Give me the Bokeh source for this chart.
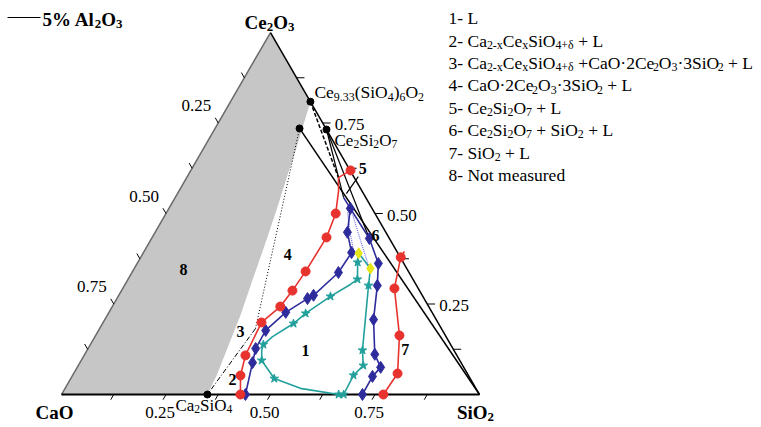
import re
import numpy as np
from bokeh.plotting import figure
from bokeh.models import Range1d, ColumnDataSource
from bokeh.core.properties import value
from bokeh.embed import file_html
from bokeh.resources import INLINE

# ---------------- data: mass fractions (SiO2, Ce2O3); CaO = 1 - SiO2 - Ce2O3 ----------------
ca2sio4 = (0.349, 0.0)
cce = (0.202, 0.735)        # CaO·2Ce2O3·3SiO2
ce2si2o7 = (0.268, 0.732)
ce933 = (0.191, 0.809)      # Ce9.33(SiO4)6O2
junction = (0.373, 0.182)

gray_si = [0.0, 0.0, 0.191, 0.208, 0.222, 0.238, 0.260, 0.280, 0.299, 0.319, 0.334, 0.345, 0.349]
gray_ce = [0.0, 1.0, 0.809, 0.738, 0.680, 0.605, 0.508, 0.412, 0.315, 0.218, 0.122, 0.053, 0.0]

red_l_si = [0.428, 0.402, 0.386, 0.379, 0.402, 0.409, 0.414, 0.417, 0.406, 0.381, 0.363, 0.382]
red_l_ce = [0.0, 0.0525, 0.108, 0.199, 0.243, 0.287, 0.340, 0.434, 0.500, 0.564, 0.599, 0.619]
red_l_mk = [1, 1, 1, 1, 1, 1, 1, 1, 1, 0, 0, 1]

red_r_si = [0.770, 0.775, 0.727, 0.650, 0.622, 0.623]
red_r_ce = [0.0, 0.058, 0.163, 0.293, 0.379, 0.395]
red_r_mk = [1, 1, 1, 1, 1, 0]

blue_l_si = [0.403, 0.434, 0.460, 0.498, 0.494, 0.466, 0.456, 0.423, 0.400, 0.401, 0.413, 0.440]
blue_l_ce = [0.544, 0.514, 0.448, 0.392, 0.337, 0.274, 0.265, 0.227, 0.177, 0.127, 0.088, 0.0]
blue_l_mk = [0, 1, 1, 1, 1, 1, 1, 1, 1, 1, 1, 1]

blue_r_si = [0.434, 0.521, 0.577, 0.605, 0.643, 0.694, 0.726, 0.719, 0.720]
blue_r_ce = [0.514, 0.431, 0.362, 0.301, 0.207, 0.111, 0.075, 0.050, 0.0]
blue_r_mk = [0, 1, 1, 1, 1, 1, 1, 1, 1]

teal_si = [0.663, 0.563, 0.487, 0.432, 0.418, 0.414, 0.425, 0.457, 0.472, 0.508, 0.539, 0.549,
           0.526, 0.516, 0.565, 0.584, 0.659, 0.682, 0.672, 0.675]
teal_ce = [0.0, 0.017, 0.044, 0.094, 0.122, 0.138, 0.160, 0.196, 0.224, 0.271, 0.304, 0.318,
           0.365, 0.390, 0.348, 0.301, 0.122, 0.080, 0.053, 0.0]
teal_mk = [1, 0, 1, 1, 0, 1, 0, 1, 1, 1, 0, 1, 1, 0, 0, 1, 1, 1, 1, 1]

yellow_si = [0.516, 0.565]
yellow_ce = [0.390, 0.348]

dot1_si = [0.433, 0.472, 0.500]
dot1_ce = [0.503, 0.439, 0.398]
dot2_si = [0.448, 0.503, 0.558]
dot2_ce = [0.497, 0.425, 0.354]

tie_b_end = (0.403, 0.544)
tie_c_end = (0.521, 0.431)
tie_d_end = (0.363, 0.599)
pointer5 = [(0.409, 0.602), (0.404, 0.555)]

tick_vals = [0.125, 0.25, 0.375, 0.5, 0.625, 0.75, 0.875]
tick_labels = {0.25: "0.25", 0.5: "0.50", 0.75: "0.75"}

region_labels = ["1", "2", "3", "4", "5", "6", "7", "8"]
region_si = [0.522, 0.387, 0.340, 0.346, 0.407, 0.530, 0.759, 0.118]
region_ce = [0.124, 0.044, 0.177, 0.390, 0.627, 0.442, 0.127, 0.348]

legend_items = [
    "1- L",
    "2- Ca_{2-x}Ce_{x}SiO_{4+δ} + L",
    "3- Ca_{2-x}Ce_{x}SiO_{4+δ} +CaO·2Ce_{2}O_{3}·3SiO_{2} + L",
    "4- CaO·2Ce_{2}O_{3}·3SiO_{2} + L",
    "5- Ce_{2}Si_{2}O_{7} + L",
    "6- Ce_{2}Si_{2}O_{7} + SiO_{2} + L",
    "7- SiO_{2} + L",
    "8- Not measured",
]

# ---------------- geometry ----------------
S3 = np.sqrt(3) / 2
PXU = 418.0            # pixels per unit side
OX, OY = 61.0, 394.0   # page pixel of the CaO vertex
W, H = 761, 427


def cart(si, ce):
    si = np.asarray(si, float)
    ce = np.asarray(ce, float)
    return si + ce / 2, ce * S3


def page(px, py):
    return (px - OX) / PXU, (OY - py) / PXU


p = figure(width=W, height=H, output_backend="svg", toolbar_location=None,
           x_range=Range1d((0 - OX) / PXU, (W - OX) / PXU),
           y_range=Range1d((OY - H) / PXU, OY / PXU),
           min_border=0, min_border_left=0, min_border_right=0,
           min_border_top=0, min_border_bottom=0)
p.axis.visible = False
p.grid.visible = False
p.outline_line_color = None
p.background_fill_color = "white"

# gray "not measured" region
gx, gy = cart(gray_si, gray_ce)
p.patch(gx, gy, fill_color="#c6c6c6", line_color=None)

# triangle edges
vx, vy = cart([0, 1, 0], [0, 0, 1])
p.line([vx[0], vx[2]], [vy[0], vy[2]], line_color="#6a6a6a", line_width=1.5)
p.line([vx[0], vx[1]], [vy[0], vy[1]], line_color="black", line_width=2.2)
p.line([vx[1], vx[2]], [vy[1], vy[2]], line_color="black", line_width=1.5)

# ticks
L = 6 / PXU
tx, ty = [], []
for t in tick_vals:
    bx, by = cart(t, 0)
    tx.append([bx, bx - 0.5 * L]); ty.append([by, by - S3 * L])
    rx, ry = cart(1 - t, t)
    tx.append([rx, rx + 1.3 * L]); ty.append([ry, ry])
    lx, ly = cart(0, 1 - t)
    tx.append([lx, lx - 0.5 * L]); ty.append([ly, ly + S3 * L])
p.multi_line(tx, ty, line_color="black", line_width=1)


def seg(a, b, **kw):
    x, y = cart([a[0], b[0]], [a[1], b[1]])
    p.line(x, y, **kw)


# tie lines
seg(cce, (1.0, 0.0), line_color="black", line_width=1.5)
seg(ce2si2o7, tie_b_end, line_color="black", line_width=1.2)
seg(ce2si2o7, tie_c_end, line_color="black", line_width=1.2)
seg(ce933, tie_d_end, line_color="black", line_width=1.5, line_dash="4 2")
seg(cce, junction, line_color="black", line_width=1, line_dash="1 2")
seg(junction, ca2sio4, line_color="black", line_width=1, line_dash="5 2 1 2")
seg(pointer5[0], pointer5[1], line_color="black", line_width=1.2)

# dotted light-blue guides
for dsi, dce in [(dot1_si, dot1_ce), (dot2_si, dot2_ce)]:
    x, y = cart(dsi, dce)
    p.line(x, y, line_color="#6f6fe6", line_width=1.2, line_dash="1 1")

RED, BLUE, TEAL = "#e8322e", "#2e2c9c", "#22a09c"


def curve(si, ce, mk, color, marker, size):
    x, y = cart(si, ce)
    p.line(x, y, line_color=color, line_width=1.6)
    m = np.array(mk, bool)
    p.scatter(x[m], y[m], marker=marker, size=size, fill_color=color, line_color=color)


curve(teal_si, teal_ce, teal_mk, TEAL, "star", 9)
curve(blue_l_si, blue_l_ce, blue_l_mk, BLUE, "diamond", 12)
curve(blue_r_si, blue_r_ce, blue_r_mk, BLUE, "diamond", 12)
curve(red_l_si, red_l_ce, red_l_mk, RED, "circle", 9)
curve(red_r_si, red_r_ce, red_r_mk, RED, "circle", 9)

yx, yy = cart(yellow_si, yellow_ce)
p.scatter(yx, yy, marker="diamond", size=11, fill_color="#e6e619", line_color="#e6e619")

# compound points
cx, cy = cart([ca2sio4[0], cce[0], ce2si2o7[0], ce933[0]], [ca2sio4[1], cce[1], ce2si2o7[1], ce933[1]])
p.scatter(cx, cy, size=7, fill_color="black", line_color="black")

# ---------------- rich text (Times metrics, Liberation Serif) ----------------
TR = {' ': 250, '%': 833, '(': 333, ')': 333, '+': 564, '-': 333, '.': 250, 'A': 722, 'C': 667,
      'L': 611, 'N': 722, 'O': 722, 'S': 556, 'a': 444, 'd': 500, 'e': 444, 'i': 278, 'l': 278,
      'm': 778, 'o': 500, 'r': 333, 's': 389, 't': 278, 'u': 500, 'x': 500, '·': 250, 'δ': 500}
TB = {' ': 250, '%': 1000, 'A': 722, 'C': 722, 'O': 778, 'S': 556, 'a': 500, 'e': 444, 'i': 278, 'l': 278}
SUB = 0.68
LIFT = 4.0

stores = {k: dict(x=[], y=[], text=[], xo=[], yo=[], fs=[]) for k in ("n", "b")}


def wid(t, bold):
    tab = TB if bold else TR
    return sum(tab.get(ch, 500) for ch in t) / 1000.0


def rich(X, Y, markup, size, bold=False, dx=0.0, dy=0.0, align="left"):
    parts = re.split(r"_\{([^}]*)\}", markup)
    segs = [(t, i % 2 == 1) for i, t in enumerate(parts) if t]
    total = sum(wid(t, bold) * size * (SUB if s else 1) for t, s in segs)
    x = dx - {"left": 0, "center": total / 2, "right": total}[align]
    base = dy + 0.33 * size - LIFT
    st = stores["b" if bold else "n"]
    for t, s in segs:
        fs = size * SUB if s else size
        lead = len(t) - len(t.lstrip(" "))
        if lead:
            x += wid(" " * lead, bold) * fs
            t = t.lstrip(" ")
        st["x"].append(X); st["y"].append(Y); st["text"].append(t)
        st["xo"].append(x); st["yo"].append(base + (0.24 * size if s else 0))
        st["fs"].append(f"{fs:.1f}px")
        x += wid(t, bold) * fs


# title-like labels
hx, hy = page(7, 17)
hx2, _ = page(40, 17)
p.line([hx, hx2], [hy, hy], line_color="black", line_width=1)
X, Y = page(42, 17)
rich(X, Y, "5% Al_{2}O_{3}", 19, bold=True)

# vertex labels
rich(vx[2], vy[2], "Ce_{2}O_{3}", 19, bold=True, dx=-1, dy=-12, align="center")
rich(vx[0], vy[0], "CaO", 19, bold=True, dx=-7, dy=16, align="center")
rich(vx[1], vy[1], "SiO_{2}", 19, bold=True, dx=-4, dy=16, align="center")

# compound labels
x, y = cart(*ce933)
rich(x, y, "Ce_{9.33}(SiO_{4})_{6}O_{2}", 17.5, dx=4, dy=-11)
x, y = cart(*ce2si2o7)
rich(x, y, "Ce_{2}Si_{2}O_{7}", 17, dx=8, dy=9)
x, y = cart(*ca2sio4)
rich(x, y, "Ca_{2}SiO_{4}", 17, dx=-32, dy=9)

# axis labels
for t, lab in tick_labels.items():
    bx, by = cart(t, 0)
    rich(float(bx), float(by), lab, 17, dx=-6, dy=16, align="center")
    rx, ry = cart(1 - t, t)
    rich(float(rx), float(ry), lab, 17, dx=12, dy=0)
    lx, ly = cart(0, 1 - t)
    rich(float(lx), float(ly), lab, 17, dx=-22, dy=-19, align="center")

# region labels
rx_, ry_ = cart(region_si, region_ce)
for lab, x, y in zip(region_labels, rx_, ry_):
    rich(float(x), float(y), lab, 16, bold=True, align="center")

# legend
for i, item in enumerate(legend_items):
    X, Y = page(448, 16 + 22.4 * i)
    rich(X, Y, item, 17.5)

for k, st in stores.items():
    p.text(x="x", y="y", text="text", x_offset="xo", y_offset="yo", text_font_size="fs",
           source=ColumnDataSource(st), text_font=value("Liberation Serif"),
           text_font_style="bold" if k == "b" else "normal", text_color="black",
           text_align="left", text_baseline="alphabetic")

open("out.html", "w").write(file_html(p, INLINE))
